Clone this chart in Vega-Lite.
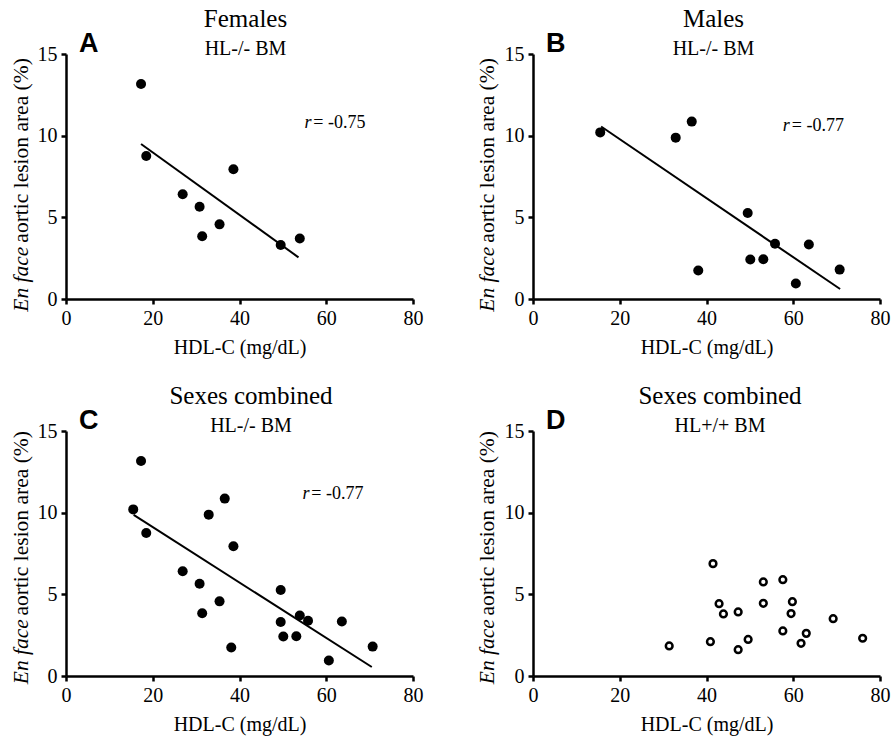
{
  "$schema": "https://vega.github.io/schema/vega-lite/v6.json",
  "padding": {"left": 10, "top": 7, "right": 5, "bottom": 3},
  "background": "white",
  "datasets": {
    "mice": [
      {"sex": "Female", "bm": "HL-/-", "hdl": 17.3, "lesion": 13.16},
      {"sex": "Female", "bm": "HL-/-", "hdl": 18.5, "lesion": 8.76},
      {"sex": "Female", "bm": "HL-/-", "hdl": 26.9, "lesion": 6.41},
      {"sex": "Female", "bm": "HL-/-", "hdl": 38.6, "lesion": 7.94},
      {"sex": "Female", "bm": "HL-/-", "hdl": 30.8, "lesion": 5.65},
      {"sex": "Female", "bm": "HL-/-", "hdl": 31.4, "lesion": 3.84},
      {"sex": "Female", "bm": "HL-/-", "hdl": 35.4, "lesion": 4.57},
      {"sex": "Female", "bm": "HL-/-", "hdl": 49.5, "lesion": 3.31},
      {"sex": "Female", "bm": "HL-/-", "hdl": 53.9, "lesion": 3.7},
      {"sex": "Male", "bm": "HL-/-", "hdl": 15.5, "lesion": 10.2},
      {"sex": "Male", "bm": "HL-/-", "hdl": 32.9, "lesion": 9.88},
      {"sex": "Male", "bm": "HL-/-", "hdl": 36.6, "lesion": 10.86},
      {"sex": "Male", "bm": "HL-/-", "hdl": 38.1, "lesion": 1.74},
      {"sex": "Male", "bm": "HL-/-", "hdl": 49.5, "lesion": 5.27},
      {"sex": "Male", "bm": "HL-/-", "hdl": 50.1, "lesion": 2.42},
      {"sex": "Male", "bm": "HL-/-", "hdl": 53.1, "lesion": 2.43},
      {"sex": "Male", "bm": "HL-/-", "hdl": 55.8, "lesion": 3.38},
      {"sex": "Male", "bm": "HL-/-", "hdl": 63.6, "lesion": 3.34},
      {"sex": "Male", "bm": "HL-/-", "hdl": 60.6, "lesion": 0.95},
      {"sex": "Male", "bm": "HL-/-", "hdl": 70.7, "lesion": 1.8},
      {"sex": "Mixed", "bm": "HL+/+", "hdl": 31.4, "lesion": 1.84},
      {"sex": "Mixed", "bm": "HL+/+", "hdl": 40.9, "lesion": 2.1},
      {"sex": "Mixed", "bm": "HL+/+", "hdl": 41.5, "lesion": 6.88},
      {"sex": "Mixed", "bm": "HL+/+", "hdl": 42.9, "lesion": 4.43},
      {"sex": "Mixed", "bm": "HL+/+", "hdl": 43.9, "lesion": 3.8},
      {"sex": "Mixed", "bm": "HL+/+", "hdl": 47.3, "lesion": 3.92},
      {"sex": "Mixed", "bm": "HL+/+", "hdl": 47.3, "lesion": 1.61},
      {"sex": "Mixed", "bm": "HL+/+", "hdl": 49.6, "lesion": 2.24},
      {"sex": "Mixed", "bm": "HL+/+", "hdl": 53.1, "lesion": 5.76},
      {"sex": "Mixed", "bm": "HL+/+", "hdl": 53.1, "lesion": 4.45},
      {"sex": "Mixed", "bm": "HL+/+", "hdl": 57.6, "lesion": 5.9},
      {"sex": "Mixed", "bm": "HL+/+", "hdl": 57.6, "lesion": 2.76},
      {"sex": "Mixed", "bm": "HL+/+", "hdl": 59.8, "lesion": 4.55},
      {"sex": "Mixed", "bm": "HL+/+", "hdl": 59.5, "lesion": 3.82},
      {"sex": "Mixed", "bm": "HL+/+", "hdl": 61.8, "lesion": 2.0},
      {"sex": "Mixed", "bm": "HL+/+", "hdl": 63.0, "lesion": 2.61},
      {"sex": "Mixed", "bm": "HL+/+", "hdl": 69.2, "lesion": 3.51},
      {"sex": "Mixed", "bm": "HL+/+", "hdl": 76.0, "lesion": 2.31}
    ],
    "fits": [
      {"panel": "A", "hdl": 17.3, "lesion": 9.49},
      {"panel": "A", "hdl": 53.6, "lesion": 2.55},
      {"panel": "B", "hdl": 15.7, "lesion": 10.56},
      {"panel": "B", "hdl": 70.8, "lesion": 0.61},
      {"panel": "C", "hdl": 15.6, "lesion": 9.86},
      {"panel": "C", "hdl": 70.5, "lesion": 0.55}
    ],
    "one": [{}]
  },
  "config": {
    "view": {"stroke": null},
    "axis": {
      "grid": false,
      "domainColor": "black",
      "domainWidth": 2.5,
      "tickColor": "black",
      "tickWidth": 2.5,
      "tickSize": 5,
      "labelFont": "Liberation Serif",
      "labelFontSize": 20,
      "labelColor": "black",
      "labelPadding": 4,
      "labelFlush": false,
      "labelOverlap": false,
      "titleFont": "Liberation Serif",
      "titleFontSize": 20,
      "titleFontWeight": "normal",
      "titleColor": "black",
      "titlePadding": 9
    },
    "title": {
      "font": "Liberation Serif",
      "fontSize": 25,
      "fontWeight": "normal",
      "color": "black",
      "subtitleFont": "Liberation Serif",
      "subtitleFontSize": 20,
      "subtitleColor": "black",
      "subtitlePadding": 7,
      "anchor": "middle",
      "baseline": "top",
      "offset": -29
    },
    "text": {"color": "black", "baseline": "alphabetic", "align": "left"}
  },
  "columns": 2,
  "spacing": {"row": 132, "column": 120},
  "bounds": "flush",
  "concat": [
    {
      "width": 347, "height": 245,
      "title": {"text": "Females", "subtitle": "HL-/- BM", "dx": 6},
      "layer": [
        {
          "data": {"name": "mice"},
          "transform": [{"filter": "datum.bm === 'HL-/-' && datum.sex === 'Female'"}],
          "mark": {"type": "circle", "size": 100, "color": "black", "opacity": 1},
          "encoding": {
            "x": {"field": "hdl", "type": "quantitative", "scale": {"domain": [0, 80], "nice": false}, "axis": {"values": [0, 20, 40, 60, 80], "title": "HDL-C (mg/dL)"}},
            "y": {"field": "lesion", "type": "quantitative", "scale": {"domain": [0, 15], "nice": false}, "axis": {"values": [0, 5, 10, 15], "title": null}}
          }
        },
        {
          "data": {"name": "fits"},
          "transform": [{"filter": "datum.panel === 'A'"}],
          "mark": {"type": "line", "color": "black", "strokeWidth": 2},
          "encoding": {"x": {"field": "hdl", "type": "quantitative"}, "y": {"field": "lesion", "type": "quantitative"}}
        },
        {"data": {"name": "one"}, "mark": {"type": "text", "text": "A", "font": "Liberation Sans", "fontWeight": "bold", "fontSize": 27}, "encoding": {"x": {"datum": 3}, "y": {"datum": 15.12}}},
        {"data": {"name": "one"}, "mark": {"type": "text", "text": "r", "font": "Liberation Serif", "fontStyle": "italic", "fontSize": 18}, "encoding": {"x": {"datum": 54.96}, "y": {"datum": 10.47}}},
        {"data": {"name": "one"}, "mark": {"type": "text", "text": "= -0.75", "font": "Liberation Serif", "fontSize": 18}, "encoding": {"x": {"datum": 57.0}, "y": {"datum": 10.47}}},
        {"data": {"name": "one"}, "mark": {"type": "text", "text": "En face", "font": "Liberation Serif", "fontStyle": "italic", "fontSize": 21.5, "angle": 270}, "encoding": {"x": {"datum": -8.83}, "y": {"datum": -0.78}}},
        {"data": {"name": "one"}, "mark": {"type": "text", "text": "aortic lesion area (%)", "font": "Liberation Serif", "fontSize": 21.5, "angle": 270}, "encoding": {"x": {"datum": -8.83}, "y": {"datum": 3.45}}}
      ]
    },
    {
      "width": 347, "height": 245,
      "title": {"text": "Males", "subtitle": "HL-/- BM", "dx": 7},
      "layer": [
        {
          "data": {"name": "mice"},
          "transform": [{"filter": "datum.bm === 'HL-/-' && datum.sex === 'Male'"}],
          "mark": {"type": "circle", "size": 100, "color": "black", "opacity": 1},
          "encoding": {
            "x": {"field": "hdl", "type": "quantitative", "scale": {"domain": [0, 80], "nice": false}, "axis": {"values": [0, 20, 40, 60, 80], "title": "HDL-C (mg/dL)"}},
            "y": {"field": "lesion", "type": "quantitative", "scale": {"domain": [0, 15], "nice": false}, "axis": {"values": [0, 5, 10, 15], "title": null}}
          }
        },
        {
          "data": {"name": "fits"},
          "transform": [{"filter": "datum.panel === 'B'"}],
          "mark": {"type": "line", "color": "black", "strokeWidth": 2},
          "encoding": {"x": {"field": "hdl", "type": "quantitative"}, "y": {"field": "lesion", "type": "quantitative"}}
        },
        {"data": {"name": "one"}, "mark": {"type": "text", "text": "B", "font": "Liberation Sans", "fontWeight": "bold", "fontSize": 27}, "encoding": {"x": {"datum": 3}, "y": {"datum": 15.12}}},
        {"data": {"name": "one"}, "mark": {"type": "text", "text": "r", "font": "Liberation Serif", "fontStyle": "italic", "fontSize": 18}, "encoding": {"x": {"datum": 57.6}, "y": {"datum": 10.3}}},
        {"data": {"name": "one"}, "mark": {"type": "text", "text": "= -0.77", "font": "Liberation Serif", "fontSize": 18}, "encoding": {"x": {"datum": 59.65}, "y": {"datum": 10.3}}},
        {"data": {"name": "one"}, "mark": {"type": "text", "text": "En face", "font": "Liberation Serif", "fontStyle": "italic", "fontSize": 21.5, "angle": 270}, "encoding": {"x": {"datum": -9.0}, "y": {"datum": -0.78}}},
        {"data": {"name": "one"}, "mark": {"type": "text", "text": "aortic lesion area (%)", "font": "Liberation Serif", "fontSize": 21.5, "angle": 270}, "encoding": {"x": {"datum": -9.0}, "y": {"datum": 3.45}}}
      ]
    },
    {
      "width": 347, "height": 245,
      "title": {"text": "Sexes combined", "subtitle": "HL-/- BM", "dx": 11.5},
      "layer": [
        {
          "data": {"name": "mice"},
          "transform": [{"filter": "datum.bm === 'HL-/-'"}],
          "mark": {"type": "circle", "size": 100, "color": "black", "opacity": 1},
          "encoding": {
            "x": {"field": "hdl", "type": "quantitative", "scale": {"domain": [0, 80], "nice": false}, "axis": {"values": [0, 20, 40, 60, 80], "title": "HDL-C (mg/dL)"}},
            "y": {"field": "lesion", "type": "quantitative", "scale": {"domain": [0, 15], "nice": false}, "axis": {"values": [0, 5, 10, 15], "title": null}}
          }
        },
        {
          "data": {"name": "fits"},
          "transform": [{"filter": "datum.panel === 'C'"}],
          "mark": {"type": "line", "color": "black", "strokeWidth": 2},
          "encoding": {"x": {"field": "hdl", "type": "quantitative"}, "y": {"field": "lesion", "type": "quantitative"}}
        },
        {"data": {"name": "one"}, "mark": {"type": "text", "text": "C", "font": "Liberation Sans", "fontWeight": "bold", "fontSize": 27}, "encoding": {"x": {"datum": 3}, "y": {"datum": 15.12}}},
        {"data": {"name": "one"}, "mark": {"type": "text", "text": "r", "font": "Liberation Serif", "fontStyle": "italic", "fontSize": 18}, "encoding": {"x": {"datum": 54.5}, "y": {"datum": 10.84}}},
        {"data": {"name": "one"}, "mark": {"type": "text", "text": "= -0.77", "font": "Liberation Serif", "fontSize": 18}, "encoding": {"x": {"datum": 56.55}, "y": {"datum": 10.84}}},
        {"data": {"name": "one"}, "mark": {"type": "text", "text": "En face", "font": "Liberation Serif", "fontStyle": "italic", "fontSize": 21.5, "angle": 270}, "encoding": {"x": {"datum": -8.83}, "y": {"datum": -0.5}}},
        {"data": {"name": "one"}, "mark": {"type": "text", "text": "aortic lesion area (%)", "font": "Liberation Serif", "fontSize": 21.5, "angle": 270}, "encoding": {"x": {"datum": -8.83}, "y": {"datum": 3.7}}}
      ]
    },
    {
      "width": 347, "height": 245,
      "title": {"text": "Sexes combined", "subtitle": "HL+/+ BM", "dx": 13.5},
      "layer": [
        {
          "data": {"name": "mice"},
          "transform": [{"filter": "datum.bm === 'HL+/+'"}],
          "mark": {"type": "circle", "size": 45, "filled": false, "color": "black", "strokeWidth": 2.5, "opacity": 1},
          "encoding": {
            "x": {"field": "hdl", "type": "quantitative", "scale": {"domain": [0, 80], "nice": false}, "axis": {"values": [0, 20, 40, 60, 80], "title": "HDL-C (mg/dL)"}},
            "y": {"field": "lesion", "type": "quantitative", "scale": {"domain": [0, 15], "nice": false}, "axis": {"values": [0, 5, 10, 15], "title": null}}
          }
        },
        {"data": {"name": "one"}, "mark": {"type": "text", "text": "D", "font": "Liberation Sans", "fontWeight": "bold", "fontSize": 27}, "encoding": {"x": {"datum": 3}, "y": {"datum": 15.12}}},
        {"data": {"name": "one"}, "mark": {"type": "text", "text": "En face", "font": "Liberation Serif", "fontStyle": "italic", "fontSize": 21.5, "angle": 270}, "encoding": {"x": {"datum": -9.0}, "y": {"datum": -0.5}}},
        {"data": {"name": "one"}, "mark": {"type": "text", "text": "aortic lesion area (%)", "font": "Liberation Serif", "fontSize": 21.5, "angle": 270}, "encoding": {"x": {"datum": -9.0}, "y": {"datum": 3.7}}}
      ]
    }
  ]
}
